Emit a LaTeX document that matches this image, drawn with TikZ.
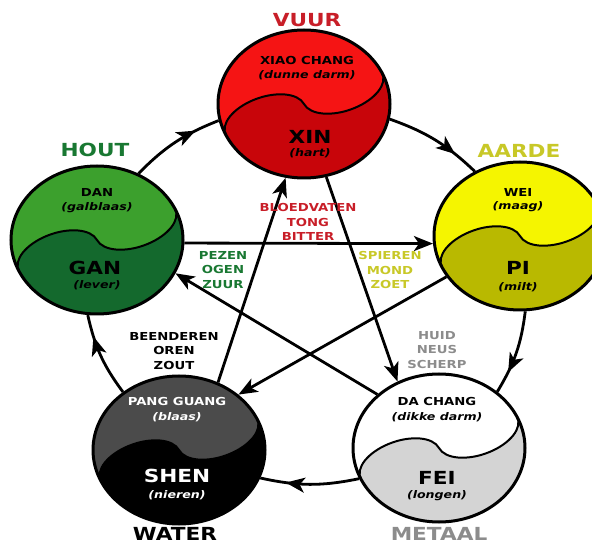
\documentclass[tikz,border=0pt]{standalone}
\usepackage{fontspec}
\setmainfont{DejaVu Sans}[FakeStretch=1.2]
\usepackage{tikz}
\usetikzlibrary{shapes.geometric,arrows.meta,decorations.markings}

\definecolor{vuurlicht}{RGB}{245,20,20}
\definecolor{vuurdonker}{RGB}{200,5,10}
\definecolor{houtlicht}{RGB}{60,160,45}
\definecolor{houtdonker}{RGB}{20,105,45}
\definecolor{aardelicht}{RGB}{245,245,0}
\definecolor{aardedonker}{RGB}{185,185,0}
\definecolor{waterlicht}{RGB}{75,75,75}
\definecolor{waterdonker}{RGB}{0,0,0}
\definecolor{metaallicht}{RGB}{255,255,255}
\definecolor{metaaldonker}{RGB}{212,212,212}
\definecolor{tvuur}{RGB}{200,30,40}
\definecolor{thout}{RGB}{25,120,50}
\definecolor{taarde}{RGB}{200,200,40}
\definecolor{tmetaal}{RGB}{140,140,140}

% yin-yang vulling: middelpunt, licht, donker
\newcommand{\yinyang}[3]{%
\begin{scope}[shift={#1},xscale=86/74]
\begin{scope}[rotate=25]
\fill[#2](0,0) circle[radius=74];
\fill[#3](74,0) arc[start angle=0,end angle=-180,radius=74]
  arc[start angle=180,end angle=0,x radius=37,y radius=22]
  arc[start angle=180,end angle=360,x radius=37,y radius=22]--cycle;
\draw[line width=2pt](-74,0) arc[start angle=180,end angle=0,x radius=37,y radius=22]
  arc[start angle=180,end angle=360,x radius=37,y radius=22];
\end{scope}
\end{scope}}

\tikzset{
  element/.style={ellipse,draw,line width=3pt,minimum width=172pt,minimum height=148pt,inner sep=0pt},
  naam/.style={font=\fontsize{18}{18}\selectfont\bfseries,text height=13pt,text depth=0pt,inner sep=0pt},
  ingewand/.style={font=\fontsize{11}{11}\selectfont\bfseries,text height=8pt,text depth=0pt,inner sep=0pt},
  uitleg/.style={font=\fontsize{10.5}{10.5}\selectfont\bfseries\itshape,text height=7.5pt,text depth=0pt,inner sep=0pt},
  kenmerk/.style={font=\fontsize{11}{14.5}\selectfont\bfseries,align=center,inner sep=0pt},
  pijl/.style={line width=2.8pt,-{Stealth[length=19pt,width=15pt,inset=5pt]}},
  kring/.style={line width=2.8pt,postaction={decorate},
    decoration={markings,mark=at position 0.74 with {\arrow{Stealth[length=19pt,width=15pt,inset=5pt]}}}},
}

\begin{document}
\begin{tikzpicture}[x=1pt,y=1pt]
\useasboundingbox(0,0) rectangle (592,544);
\clip(0,0) rectangle (592,544);

\yinyang{(304,440)}{vuurlicht}{vuurdonker}
\yinyang{(97,304)}{houtlicht}{houtdonker}
\yinyang{(520,308)}{aardelicht}{aardedonker}
\yinyang{(179,94)}{waterlicht}{waterdonker}
\yinyang{(439,96)}{metaallicht}{metaaldonker}

\node[element] (vuur) at (304,440) {};
\node[element] (hout) at (97,304) {};
\node[element] (aarde) at (520,308) {};
\node[element] (water) at (179,94) {};
\node[element] (metaal) at (439,96) {};

% kringloop buiten
\draw[kring](hout.58) to[bend left=12] (vuur.191);
\draw[kring](vuur.350) to[bend left=12] (aarde.125);
\draw[kring](aarde.274) to[bend left=12] (metaal.44);
\draw[kring](metaal.201) to[bend left=12] (water.341);
\draw[kring](water.134) to[bend left=12] (hout.263);

% ster binnen
\draw[pijl](water.60)--(vuur.256);
\draw[pijl](vuur.287)--(metaal.122);
\draw[pijl](metaal.139)--(hout.337);
\draw[pijl](hout.358)--(aarde.185);
\draw[pijl](aarde.209)--(water.43);

\node[naam,text=tvuur] (lblvuur) at (307,524) {VUUR};
\node[naam,text=thout] (lblhout) at (95,394) {HOUT};
\node[naam,text=taarde] (lblaarde) at (519,393) {AARDE};
\node[naam] (lblwater) at (175,10) {WATER};
\node[naam,text=tmetaal] (lblmetaal) at (439,10) {METAAL};

\node[ingewand] (xiaochang) at (307,483) {XIAO CHANG};
\node[uitleg] (dunnedarm) at (307,469) {(dunne darm)};
\node[naam] (xin) at (310,407) {XIN};
\node[uitleg] (hart) at (310,391) {(hart)};

\node[ingewand] (dan) at (97,351) {DAN};
\node[uitleg] (galblaas) at (97,337) {(galblaas)};
\node[naam] (gan) at (95,276) {GAN};
\node[uitleg] (lever) at (97,259) {(lever)};

\node[ingewand] (wei) at (518,351) {WEI};
\node[uitleg] (maag) at (518,338) {(maag)};
\node[naam] (pi) at (518,276) {PI};
\node[uitleg] (milt) at (518,257) {(milt)};

\node[ingewand,text=white] (pangguang) at (177,142) {PANG GUANG};
\node[uitleg,text=white] (blaas) at (177,127) {(blaas)};
\node[naam,text=white] (shen) at (177,68) {SHEN};
\node[uitleg,text=white] (nieren) at (177,49) {(nieren)};

\node[ingewand] (dachang) at (437,142) {DA CHANG};
\node[uitleg] (dikkedarm) at (437,127) {(dikke darm)};
\node[naam] (fei) at (437,66) {FEI};
\node[uitleg] (longen) at (437,49) {(longen)};

\node[kenmerk,text=tvuur] (kvuur) at (308,322) {BLOEDVATEN\\TONG\\BITTER};
\node[kenmerk,text=thout] (khout) at (223,274) {PEZEN\\OGEN\\ZUUR};
\node[kenmerk,text=taarde] (kaarde) at (390,274) {SPIEREN\\MOND\\ZOET};
\node[kenmerk] (kwater) at (174,193) {BEENDEREN\\OREN\\ZOUT};
\node[kenmerk,text=tmetaal] (kmetaal) at (437,194) {HUID\\NEUS\\SCHERP};
\end{tikzpicture}
\end{document}
